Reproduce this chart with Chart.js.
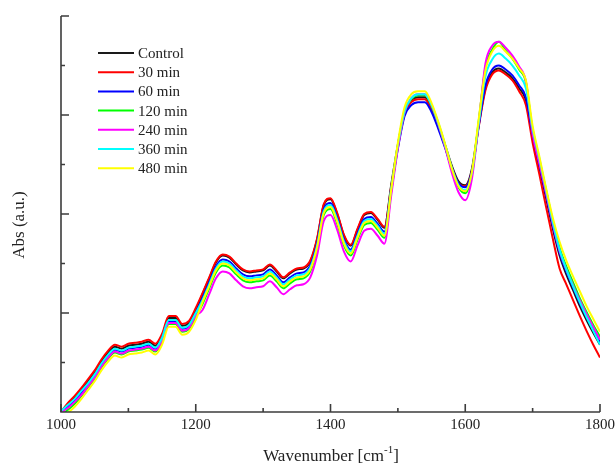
<!DOCTYPE html>
<html>
<head>
<meta charset="utf-8">
<script src="https://cdn.jsdelivr.net/npm/chart.js@4/dist/chart.umd.min.js"></script>
<style>
  html, body { margin: 0; padding: 0; background: #fff; }
  #wrap { position: relative; width: 615px; height: 466px; }
</style>
</head>
<body>
<div id="wrap"><canvas id="ftirChart"></canvas></div>
<script>
// wavenumber grid, cm-1
var wavenumbers = [1000, 1010, 1020, 1030, 1040, 1050, 1060, 1070, 1080, 1090,
    1100, 1110, 1120, 1130, 1140, 1150, 1160, 1170, 1180, 1190,
    1200, 1210, 1220, 1230, 1240, 1250, 1260, 1270, 1280, 1290,
    1300, 1310, 1320, 1330, 1340, 1350, 1360, 1370, 1380, 1390,
    1400, 1410, 1420, 1430, 1440, 1450, 1460, 1470, 1480, 1490,
    1500, 1510, 1520, 1530, 1540, 1550, 1560, 1570, 1580, 1590,
    1600, 1610, 1620, 1630, 1640, 1650, 1660, 1670, 1680, 1690,
    1700, 1710, 1720, 1730, 1740, 1750, 1760, 1770, 1780, 1790, 1800];

var seriesNames = ['Control', '30 min', '60 min', '120 min', '240 min', '360 min', '480 min'];

var control = [0.00, 0.07, 0.14, 0.22, 0.31, 0.40, 0.51, 0.60, 0.66, 0.64,
    0.67, 0.68, 0.69, 0.71, 0.67, 0.77, 0.95, 0.95, 0.87, 0.90,
    1.03, 1.19, 1.35, 1.51, 1.58, 1.56, 1.49, 1.43, 1.41, 1.42,
    1.43, 1.48, 1.42, 1.35, 1.40, 1.44, 1.45, 1.52, 1.74, 2.09,
    2.15, 2.00, 1.78, 1.68, 1.84, 1.99, 2.01, 1.94, 1.86, 2.29,
    2.70, 3.03, 3.15, 3.18, 3.18, 3.07, 2.90, 2.70, 2.49, 2.33,
    2.29, 2.46, 2.90, 3.27, 3.43, 3.47, 3.43, 3.37, 3.27, 3.15,
    2.77, 2.47, 2.16, 1.85, 1.58, 1.39, 1.23, 1.07, 0.93, 0.80, 0.68];

var min30 = [0.00, 0.09, 0.16, 0.24, 0.33, 0.42, 0.53, 0.62, 0.68, 0.66,
    0.69, 0.70, 0.71, 0.73, 0.69, 0.79, 0.97, 0.97, 0.89, 0.92,
    1.05, 1.20, 1.36, 1.52, 1.59, 1.57, 1.50, 1.44, 1.42, 1.43,
    1.44, 1.49, 1.43, 1.36, 1.41, 1.45, 1.46, 1.53, 1.75, 2.10,
    2.16, 2.01, 1.79, 1.69, 1.85, 2.00, 2.02, 1.95, 1.87, 2.27,
    2.68, 3.01, 3.13, 3.16, 3.16, 3.05, 2.88, 2.68, 2.47, 2.31,
    2.28, 2.44, 2.88, 3.25, 3.41, 3.45, 3.41, 3.35, 3.24, 3.10,
    2.72, 2.40, 2.07, 1.75, 1.45, 1.29, 1.13, 0.97, 0.82, 0.68, 0.55];

var min60 = [0.00, 0.05, 0.11, 0.19, 0.28, 0.37, 0.48, 0.57, 0.63, 0.61,
    0.64, 0.65, 0.66, 0.68, 0.64, 0.74, 0.92, 0.92, 0.84, 0.87,
    1.00, 1.15, 1.31, 1.47, 1.54, 1.52, 1.45, 1.39, 1.37, 1.38,
    1.39, 1.44, 1.38, 1.31, 1.36, 1.40, 1.41, 1.48, 1.70, 2.05,
    2.11, 1.96, 1.74, 1.64, 1.80, 1.95, 1.97, 1.90, 1.82, 2.25,
    2.66, 2.99, 3.10, 3.13, 3.13, 3.03, 2.86, 2.67, 2.46, 2.31,
    2.27, 2.44, 2.89, 3.30, 3.46, 3.50, 3.46, 3.40, 3.30, 3.18,
    2.80, 2.50, 2.19, 1.88, 1.61, 1.42, 1.26, 1.10, 0.96, 0.83, 0.71];

var min120 = [-0.03, 0.02, 0.08, 0.16, 0.25, 0.34, 0.45, 0.54, 0.60, 0.58,
    0.61, 0.62, 0.63, 0.65, 0.61, 0.71, 0.89, 0.89, 0.81, 0.84,
    0.96, 1.09, 1.25, 1.41, 1.48, 1.46, 1.39, 1.33, 1.31, 1.32,
    1.33, 1.38, 1.32, 1.25, 1.30, 1.34, 1.35, 1.42, 1.64, 1.99,
    2.05, 1.90, 1.68, 1.58, 1.74, 1.89, 1.91, 1.84, 1.76, 2.22,
    2.68, 3.03, 3.16, 3.20, 3.20, 3.09, 2.91, 2.69, 2.45, 2.27,
    2.21, 2.40, 2.94, 3.48, 3.66, 3.74, 3.65, 3.57, 3.46, 3.33,
    2.84, 2.54, 2.24, 1.93, 1.66, 1.47, 1.31, 1.15, 1.01, 0.88, 0.76];

var min240 = [0.00, 0.04, 0.10, 0.17, 0.26, 0.35, 0.46, 0.55, 0.61, 0.59,
    0.62, 0.63, 0.64, 0.66, 0.62, 0.72, 0.90, 0.90, 0.82, 0.85,
    0.97, 1.03, 1.19, 1.35, 1.42, 1.40, 1.33, 1.27, 1.25, 1.26,
    1.27, 1.32, 1.26, 1.19, 1.24, 1.28, 1.29, 1.36, 1.58, 1.93,
    1.99, 1.84, 1.62, 1.52, 1.68, 1.83, 1.85, 1.78, 1.70, 2.18,
    2.66, 3.03, 3.17, 3.21, 3.21, 3.10, 2.91, 2.68, 2.42, 2.22,
    2.14, 2.36, 2.92, 3.52, 3.70, 3.74, 3.68, 3.60, 3.49, 3.34,
    2.81, 2.51, 2.21, 1.90, 1.63, 1.44, 1.28, 1.13, 0.99, 0.86, 0.73];

var min360 = [0.01, 0.07, 0.13, 0.21, 0.29, 0.38, 0.49, 0.58, 0.64, 0.62,
    0.65, 0.66, 0.67, 0.69, 0.65, 0.75, 0.93, 0.93, 0.85, 0.88,
    1.00, 1.13, 1.29, 1.45, 1.52, 1.50, 1.43, 1.37, 1.35, 1.36,
    1.37, 1.42, 1.36, 1.29, 1.34, 1.38, 1.39, 1.46, 1.68, 2.03,
    2.09, 1.94, 1.72, 1.62, 1.78, 1.93, 1.95, 1.88, 1.80, 2.25,
    2.70, 3.04, 3.17, 3.21, 3.21, 3.10, 2.92, 2.70, 2.47, 2.29,
    2.24, 2.42, 2.92, 3.39, 3.56, 3.62, 3.57, 3.50, 3.40, 3.27,
    2.86, 2.56, 2.24, 1.92, 1.64, 1.44, 1.27, 1.11, 0.96, 0.82, 0.68];

var min480 = [-0.07, -0.01, 0.05, 0.13, 0.22, 0.31, 0.42, 0.51, 0.57, 0.55,
    0.58, 0.59, 0.60, 0.62, 0.58, 0.68, 0.86, 0.86, 0.78, 0.81,
    0.93, 1.11, 1.27, 1.43, 1.50, 1.48, 1.41, 1.35, 1.33, 1.34,
    1.35, 1.40, 1.34, 1.27, 1.32, 1.36, 1.37, 1.44, 1.66, 2.01,
    2.07, 1.92, 1.70, 1.60, 1.76, 1.91, 1.93, 1.86, 1.78, 2.24,
    2.72, 3.08, 3.21, 3.24, 3.24, 3.12, 2.93, 2.71, 2.46, 2.28,
    2.23, 2.43, 2.96, 3.45, 3.64, 3.70, 3.64, 3.57, 3.47, 3.35,
    2.89, 2.58, 2.26, 1.96, 1.72, 1.53, 1.37, 1.22, 1.07, 0.94, 0.81];

var xTickLabels = [1000, 1200, 1400, 1600, 1800];
var xMinorTicks = [1100, 1300, 1500, 1700];
var yMajorTicks = [1, 2, 3, 4];
var yMinorTicks = [0.5, 1.5, 2.5, 3.5];

var allSeries = [control, min30, min60, min120, min240, min360, min480];
var colors = ['#1a1a1a', '#ff0000', '#0000ff', '#00ff00', '#ff00ff', '#00ffff', '#ffff00'];

var serif = '"Liberation Serif", "DejaVu Serif", serif';

function toPoints(values) {
    return values.map(function (v, i) { return { x: wavenumbers[i], y: v }; });
}

var datasets = allSeries.map(function (values, i) {
    return {
        label: seriesNames[i],
        data: toPoints(values),
        borderColor: colors[i],
        borderWidth: 2,
        pointRadius: 0,
        cubicInterpolationMode: 'monotone',
        clip: 0,
        order: allSeries.length - i
    };
});

var decorPlugin = {
    id: 'decor',
    afterDraw: function (chart) {
        var ctx = chart.ctx;
        var a = chart.chartArea;
        var x = chart.scales.x;
        var y = chart.scales.y;
        ctx.save();
        ctx.strokeStyle = '#3c3c3c';
        ctx.lineWidth = 1.6;
        ctx.beginPath();
        ctx.moveTo(a.left, a.top);
        ctx.lineTo(a.left, a.bottom);
        ctx.lineTo(a.right, a.bottom);
        ctx.stroke();

        // inward ticks, major and minor
        ctx.beginPath();
        xTickLabels.forEach(function (v) {
            var px = x.getPixelForValue(v);
            ctx.moveTo(px, a.bottom); ctx.lineTo(px, a.bottom - 8);
        });
        xMinorTicks.forEach(function (v) {
            var px = x.getPixelForValue(v);
            ctx.moveTo(px, a.bottom); ctx.lineTo(px, a.bottom - 4);
        });
        yMajorTicks.forEach(function (v) {
            var py = y.getPixelForValue(v);
            ctx.moveTo(a.left, py); ctx.lineTo(a.left + 8, py);
        });
        yMinorTicks.forEach(function (v) {
            var py = y.getPixelForValue(v);
            ctx.moveTo(a.left, py); ctx.lineTo(a.left + 4, py);
        });
        ctx.stroke();

        ctx.fillStyle = '#222';
        ctx.font = '15px ' + serif;
        ctx.textAlign = 'center';
        ctx.textBaseline = 'top';
        xTickLabels.forEach(function (v) {
            ctx.fillText(String(v), x.getPixelForValue(v), a.bottom + 6);
        });

        // x axis title with superscript
        ctx.font = '17px ' + serif;
        ctx.textBaseline = 'alphabetic';
        ctx.textAlign = 'left';
        var main = 'Wavenumber [cm';
        var w1 = ctx.measureText(main).width;
        ctx.font = '11px ' + serif;
        var w2 = ctx.measureText('-1').width;
        ctx.font = '17px ' + serif;
        var w3 = ctx.measureText(']').width;
        var startX = 331 - (w1 + w2 + w3) / 2;
        ctx.fillText(main, startX, 461);
        ctx.font = '11px ' + serif;
        ctx.fillText('-1', startX + w1, 453);
        ctx.font = '17px ' + serif;
        ctx.fillText(']', startX + w1 + w2, 461);

        // y axis title
        ctx.save();
        ctx.translate(20, 225);
        ctx.rotate(-Math.PI / 2);
        ctx.textAlign = 'center';
        ctx.textBaseline = 'middle';
        ctx.fillText('Abs (a.u.)', 0, 0);
        ctx.restore();

        // legend inside the plot
        ctx.font = '15px ' + serif;
        ctx.textAlign = 'left';
        ctx.textBaseline = 'middle';
        seriesNames.forEach(function (name, i) {
            var ly = 53 + i * 19.2;
            ctx.strokeStyle = colors[i];
            ctx.lineWidth = 2;
            ctx.beginPath();
            ctx.moveTo(98, ly); ctx.lineTo(134, ly);
            ctx.stroke();
            ctx.fillStyle = '#222';
            ctx.fillText(name, 138, ly + 1);
        });
        ctx.restore();
    }
};

var chart = new Chart(document.getElementById('ftirChart').getContext('2d'), {
    type: 'line',
    data: { datasets: datasets },
    options: {
        responsive: true,
        maintainAspectRatio: false,
        animation: false,
        layout: { padding: { left: 61, top: 16, right: 15, bottom: 54 } },
        plugins: { legend: { display: false }, tooltip: { enabled: false } },
        scales: {
            x: { type: 'linear', display: false, min: 1000, max: 1800 },
            y: { type: 'linear', display: false, min: 0, max: 4 }
        }
    },
    plugins: [decorPlugin]
});
</script>
</body>
</html>
